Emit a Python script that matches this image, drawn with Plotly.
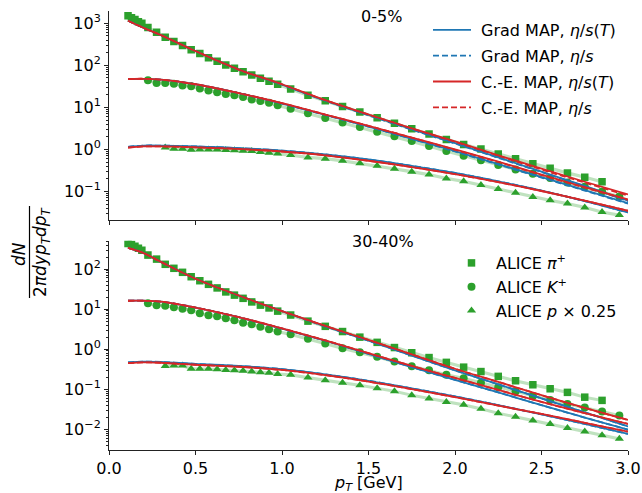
import numpy as np
import plotly.graph_objects as go

# ALICE pT bin centres [GeV]
pt_pi = [0.11, 0.13, 0.15, 0.17, 0.19, 0.225, 0.275, 0.325, 0.375, 0.425, 0.475, 0.525, 0.575,
         0.625, 0.675, 0.725, 0.775, 0.825, 0.875, 0.925, 0.975, 1.05, 1.15, 1.25, 1.35, 1.45,
         1.55, 1.65, 1.75, 1.85, 1.95, 2.05, 2.15, 2.25, 2.35, 2.45, 2.55, 2.65, 2.75, 2.85]
pt_k = [0.225, 0.275, 0.325, 0.375, 0.425, 0.475, 0.525, 0.575, 0.625, 0.675, 0.725, 0.775,
        0.825, 0.875, 0.925, 0.975, 1.05, 1.15, 1.25, 1.35, 1.45, 1.55, 1.65, 1.75, 1.85, 1.95,
        2.05, 2.15, 2.25, 2.35, 2.45, 2.55, 2.65, 2.75, 2.85, 2.95]
pt_p = [0.325, 0.375, 0.425, 0.475, 0.525, 0.575, 0.625, 0.675, 0.725, 0.775, 0.825, 0.875,
        0.925, 0.975, 1.05, 1.15, 1.25, 1.35, 1.45, 1.55, 1.65, 1.75, 1.85, 1.95, 2.05, 2.15,
        2.25, 2.35, 2.45, 2.55, 2.65, 2.75, 2.85, 2.95]

# ALICE spectra, log10 of yield
lg_pi_c0 = [3.18, 3.13, 3.09, 3.04, 3.00, 2.90, 2.79, 2.67, 2.57, 2.47, 2.37, 2.28, 2.18, 2.10,
            2.01, 1.93, 1.85, 1.77, 1.69, 1.62, 1.55, 1.436, 1.29, 1.157, 1.02, 0.888, 0.75, 0.62,
            0.49, 0.364, 0.238, 0.119, 0.007, -0.11, -0.22, -0.34, -0.45, -0.56, -0.66, -0.77]
lg_k_c0 = [1.643, 1.58, 1.58, 1.56, 1.52, 1.50, 1.45, 1.40, 1.36, 1.32, 1.29, 1.245, 1.19, 1.15,
           1.11, 1.05, 0.967, 0.857, 0.745, 0.64, 0.53, 0.42, 0.31, 0.20, 0.08, -0.04, -0.15,
           -0.26, -0.37, -0.48, -0.58, -0.68, -0.79, -0.89, -1.00, -1.12]
lg_p_c0 = [0.048, 0.015, 0.015, -0.01, 0.0, 0.0, -0.005, -0.015, -0.02, -0.03, -0.04, -0.06,
           -0.08, -0.10, -0.136, -0.19, -0.22, -0.27, -0.33, -0.39, -0.46, -0.53, -0.60, -0.69,
           -0.76, -0.85, -0.94, -1.03, -1.13, -1.21, -1.29, -1.38, -1.49, -1.56]
lg_pi_c30 = [2.64, 2.62, 2.57, 2.52, 2.47, 2.35, 2.25, 2.12, 2.02, 1.92, 1.81, 1.71, 1.62, 1.53,
             1.43, 1.35, 1.27, 1.18, 1.10, 1.03, 0.95, 0.853, 0.70, 0.57, 0.44, 0.30, 0.17, 0.04,
             -0.09, -0.21, -0.33, -0.45, -0.56, -0.68, -0.79, -0.89, -0.99, -1.08, -1.20, -1.28]
lg_k_c30 = [1.145, 1.10, 1.085, 1.05, 1.01, 0.97, 0.90, 0.85, 0.82, 0.77, 0.72, 0.66, 0.62, 0.56,
            0.50, 0.44, 0.37, 0.26, 0.14, 0.02, -0.08, -0.19, -0.31, -0.43, -0.53, -0.64, -0.73,
            -0.84, -0.95, -1.06, -1.17, -1.27, -1.37, -1.46, -1.56, -1.66]
lg_p_c30 = [-0.42, -0.41, -0.41, -0.49, -0.49, -0.49, -0.50, -0.52, -0.53, -0.54, -0.56, -0.58,
            -0.59, -0.62, -0.64, -0.71, -0.78, -0.84, -0.90, -0.975, -1.05, -1.15, -1.23, -1.32,
            -1.39, -1.49, -1.60, -1.69, -1.78, -1.87, -1.97, -2.06, -2.15, -2.24]
rel_err = 0.09  # width of the shaded experimental band

# model curves (MAP parameters), log10 of yield
pt_model = [0.11, 0.2, 0.3, 0.5, 0.75, 1.0, 1.25, 1.5, 1.75, 2.0, 2.25, 2.5, 2.75, 3.0]
# 0-5%
pi0_grad_T = [3.06, 2.89, 2.72, 2.34, 1.90, 1.54, 1.16, 0.82, 0.48, 0.15, -0.19, -0.53, -0.87, -1.22]
pi0_grad = [3.06, 2.89, 2.72, 2.34, 1.90, 1.54, 1.16, 0.81, 0.47, 0.14, -0.20, -0.54, -0.88, -1.23]
pi0_ce_T = [3.06, 2.89, 2.72, 2.34, 1.90, 1.55, 1.17, 0.83, 0.50, 0.19, -0.14, -0.46, -0.77, -1.07]
pi0_ce = [3.06, 2.89, 2.72, 2.34, 1.90, 1.55, 1.17, 0.83, 0.50, 0.18, -0.15, -0.48, -0.79, -1.10]
k0_grad_T = [1.67, 1.68, 1.66, 1.55, 1.34, 1.09, 0.82, 0.54, 0.25, -0.04, -0.35, -0.66, -0.97, -1.28]
k0_grad = [1.67, 1.68, 1.66, 1.55, 1.34, 1.09, 0.82, 0.54, 0.25, -0.05, -0.36, -0.67, -0.98, -1.29]
k0_ce_T = [1.674, 1.68, 1.66, 1.55, 1.34, 1.10, 0.83, 0.56, 0.28, 0.0, -0.29, -0.60, -0.90, -1.19]
k0_ce = [1.674, 1.68, 1.66, 1.55, 1.34, 1.10, 0.83, 0.56, 0.28, -0.01, -0.30, -0.61, -0.91, -1.20]
p0_grad_T = [0.06, 0.09, 0.09, 0.07, 0.03, -0.03, -0.12, -0.24, -0.39, -0.56, -0.76, -0.98, -1.23, -1.50]
p0_grad = [0.06, 0.09, 0.09, 0.07, 0.03, -0.03, -0.12, -0.24, -0.39, -0.56, -0.76, -0.98, -1.23, -1.50]
p0_ce_T = [0.04, 0.07, 0.07, 0.05, 0.01, -0.05, -0.14, -0.27, -0.42, -0.59, -0.78, -0.99, -1.22, -1.46]
p0_ce = [0.04, 0.07, 0.07, 0.05, 0.01, -0.05, -0.14, -0.27, -0.42, -0.59, -0.78, -0.99, -1.22, -1.46]
# 30-40%
pi30_grad_T = [2.53, 2.40, 2.18, 1.76, 1.34, 0.95, 0.57, 0.21, -0.16, -0.53, -0.88, -1.23, -1.58, -1.93]
pi30_grad = [2.53, 2.40, 2.18, 1.76, 1.34, 0.95, 0.57, 0.21, -0.16, -0.53, -0.88, -1.23, -1.58, -1.93]
pi30_ce_T = [2.53, 2.40, 2.18, 1.76, 1.34, 0.95, 0.58, 0.23, -0.13, -0.49, -0.82, -1.15, -1.47, -1.77]
pi30_ce = [2.53, 2.40, 2.18, 1.76, 1.34, 0.95, 0.58, 0.23, -0.13, -0.49, -0.82, -1.15, -1.47, -1.77]
k30_grad_T = [1.21, 1.21, 1.19, 1.04, 0.80, 0.51, 0.21, -0.12, -0.45, -0.77, -1.08, -1.40, -1.71, -2.01]
k30_grad = [1.21, 1.21, 1.19, 1.04, 0.80, 0.51, 0.21, -0.12, -0.45, -0.77, -1.08, -1.40, -1.71, -2.01]
k30_ce_T = [1.21, 1.21, 1.19, 1.04, 0.80, 0.52, 0.22, -0.10, -0.42, -0.72, -1.02, -1.32, -1.60, -1.87]
k30_ce = [1.21, 1.21, 1.19, 1.04, 0.80, 0.52, 0.22, -0.10, -0.42, -0.72, -1.02, -1.32, -1.60, -1.87]
p30_grad_T = [-0.33, -0.31, -0.32, -0.37, -0.42, -0.50, -0.63, -0.79, -0.98, -1.18, -1.40, -1.63, -1.87, -2.12]
p30_grad = [-0.33, -0.31, -0.32, -0.37, -0.42, -0.50, -0.63, -0.79, -0.98, -1.18, -1.40, -1.63, -1.87, -2.12]
p30_ce_T = [-0.35, -0.33, -0.34, -0.39, -0.44, -0.52, -0.65, -0.81, -1.00, -1.20, -1.41, -1.62, -1.84, -2.06]
p30_ce = [-0.35, -0.33, -0.34, -0.39, -0.44, -0.52, -0.65, -0.81, -1.00, -1.20, -1.41, -1.62, -1.84, -2.06]

centralities = ["0-5%", "30-40%"]
model_names = ["Grad MAP, <i>η</i>/<i>s</i>(<i>T</i>)", "Grad MAP, <i>η</i>/<i>s</i>",
               "C.-E. MAP, <i>η</i>/<i>s</i>(<i>T</i>)", "C.-E. MAP, <i>η</i>/<i>s</i>"]
species_names = ["ALICE <i>π</i><sup>+</sup>", "ALICE <i>K</i><sup>+</sup>", "ALICE <i>p</i> × 0.25"]
ytick_top = ["10<sup>−1</sup>", "10<sup>0</sup>", "10<sup>1</sup>", "10<sup>2</sup>", "10<sup>3</sup>"]
ytick_bot = ["10<sup>−2</sup>", "10<sup>−1</sup>", "10<sup>0</sup>", "10<sup>1</sup>", "10<sup>2</sup>"]

GREEN = "#2ca02c"
BAND = "rgba(44,160,44,0.3)"
BLUE = "#1f77b4"
RED = "#d62728"
FONT = "DejaVu Sans"
NB = "\u00a0"

W, H = 642, 493
ML, MR, MT, MB = 109, 14, 10, 43
PW, PH = W - ML - MR, H - MT - MB


def px_x(px):
    return (px - ML) / PW


def px_y(py):
    return 1 - (py - MT) / PH


fig = go.Figure()

panels = [
    ("x", "y", [(pt_pi, lg_pi_c0), (pt_k, lg_k_c0), (pt_p, lg_p_c0)],
     [(pi0_grad_T, pi0_grad, pi0_ce_T, pi0_ce), (k0_grad_T, k0_grad, k0_ce_T, k0_ce),
      (p0_grad_T, p0_grad, p0_ce_T, p0_ce)]),
    ("x2", "y2", [(pt_pi, lg_pi_c30), (pt_k, lg_k_c30), (pt_p, lg_p_c30)],
     [(pi30_grad_T, pi30_grad, pi30_ce_T, pi30_ce), (k30_grad_T, k30_grad, k30_ce_T, k30_ce),
      (p30_grad_T, p30_grad, p30_ce_T, p30_ce)]),
]
symbols = ["square", "circle", "triangle-up"]
line_styles = [(BLUE, "solid"), (BLUE, "6px,3px"), (RED, "solid"), (RED, "6px,3px")]

for ip, (xa, ya, data, models) in enumerate(panels):
    # experimental bands and points
    for isp, (pt, lg) in enumerate(data):
        y = 10 ** np.array(lg)
        fig.add_trace(go.Scatter(x=pt, y=y * (1 - rel_err), mode="lines", line=dict(width=0),
                                 xaxis=xa, yaxis=ya, showlegend=False, hoverinfo="skip"))
        fig.add_trace(go.Scatter(x=pt, y=y * (1 + rel_err), mode="lines", line=dict(width=0),
                                 fill="tonexty", fillcolor=BAND, xaxis=xa, yaxis=ya,
                                 showlegend=False, hoverinfo="skip"))
    for isp, (pt, lg) in enumerate(data):
        fig.add_trace(go.Scatter(x=pt, y=10 ** np.array(lg), mode="markers",
                                 marker=dict(symbol=symbols[isp], color=GREEN, size=8 if isp else 7.5),
                                 name=species_names[isp], legend="legend2",
                                 legendgroup="sp%d" % isp,
                                 showlegend=(ip == 1), xaxis=xa, yaxis=ya))
    # model curves
    for im in range(4):
        for isp in range(3):
            col, dash = line_styles[im]
            fig.add_trace(go.Scatter(x=pt_model, y=10 ** np.array(models[isp][im]), mode="lines",
                                     line=dict(color=col, width=1.8, dash=dash, shape="spline"),
                                     name=NB + model_names[im], legend="legend",
                                     legendgroup="m%d" % im,
                                     showlegend=(ip == 0 and isp == 0), xaxis=xa, yaxis=ya))

minor_vals = [m * 10.0 ** k for k in range(-3, 4) for m in range(2, 10)]
axis_common = dict(showline=True, linecolor="#222", linewidth=1, ticks="outside", ticklen=4,
                   tickcolor="#222", showgrid=False, zeroline=False, automargin=False,
                   tickfont=dict(family=FONT, size=16, color="black"))
xticks = [0.0, 0.5, 1.0, 1.5, 2.0, 2.5, 3.0]

fig.update_layout(
    template="none",
    width=W, height=H,
    margin=dict(l=ML, r=MR, t=MT, b=MB, autoexpand=False),
    paper_bgcolor="white", plot_bgcolor="white",
    font=dict(family=FONT, size=16, color="black"),
    xaxis=dict(domain=[0, 1], anchor="y", range=[0, 3], tickvals=xticks,
               showticklabels=False, **axis_common),
    xaxis2=dict(domain=[0, 1], anchor="y2", range=[0, 3], tickvals=xticks,
                ticktext=["%.1f" % v for v in xticks], ticklabelstandoff=0, **axis_common),
    yaxis=dict(domain=[px_y(220), px_y(10.7)], anchor="x", type="log", range=[-1.68, 3.3],
               tickvals=[0.1, 1, 10, 100, 1000], ticktext=ytick_top,
               minor=dict(ticks="outside", ticklen=2, tickvals=minor_vals, tickcolor="#222"),
               **axis_common),
    yaxis2=dict(domain=[px_y(450), px_y(240.7)], anchor="x2", type="log", range=[-2.52, 2.71],
                tickvals=[0.01, 0.1, 1, 10, 100], ticktext=ytick_bot,
                minor=dict(ticks="outside", ticklen=2, tickvals=minor_vals, tickcolor="#222"),
                **axis_common),
    legend=dict(x=px_x(428), y=px_y(13), xanchor="left", yanchor="top", bgcolor="rgba(0,0,0,0)",
                font=dict(family=FONT, size=16), tracegroupgap=2, traceorder="grouped",
                itemwidth=38),
    legend2=dict(x=px_x(447), y=px_y(246), xanchor="left", yanchor="top", bgcolor="rgba(0,0,0,0)",
                 font=dict(family=FONT, size=16), tracegroupgap=0, traceorder="grouped",
                 itemwidth=39),
    showlegend=True,
)

ann = dict(xref="paper", yref="paper", showarrow=False, xanchor="center", yanchor="middle")

# centrality labels
fig.add_annotation(text=centralities[0], x=px_x(381), y=px_y(17),
                   font=dict(family=FONT, size=16), **ann)
fig.add_annotation(text=centralities[1], x=px_x(383), y=px_y(242),
                   font=dict(family=FONT, size=16), **ann)

# x-axis title
fig.add_annotation(text="<i>p</i><sub><i>T</i></sub> [GeV]", x=px_x(368), y=px_y(483),
                   font=dict(family=FONT, size=16), **ann)

# y-axis label as a fraction
fig.add_annotation(text="<i>dN</i>", x=px_x(19), y=px_y(254), textangle=-90,
                   font=dict(family=FONT, size=17), **ann)
fig.add_annotation(text="2<i>πdyp</i><sub><i>T</i></sub><i>dp</i><sub><i>T</i></sub>",
                   x=px_x(41), y=px_y(252), textangle=-90,
                   font=dict(family=FONT, size=17), **ann)
fig.add_shape(type="line", xref="paper", yref="paper", x0=px_x(29.5), x1=px_x(29.5),
              y0=px_y(206), y1=px_y(298), line=dict(color="black", width=1.2))

# the page's default body margin would shift the figure by 8px
fig.write_html("out.html", config={"displayModeBar": False},
               post_script="document.body.style.margin='0';")
